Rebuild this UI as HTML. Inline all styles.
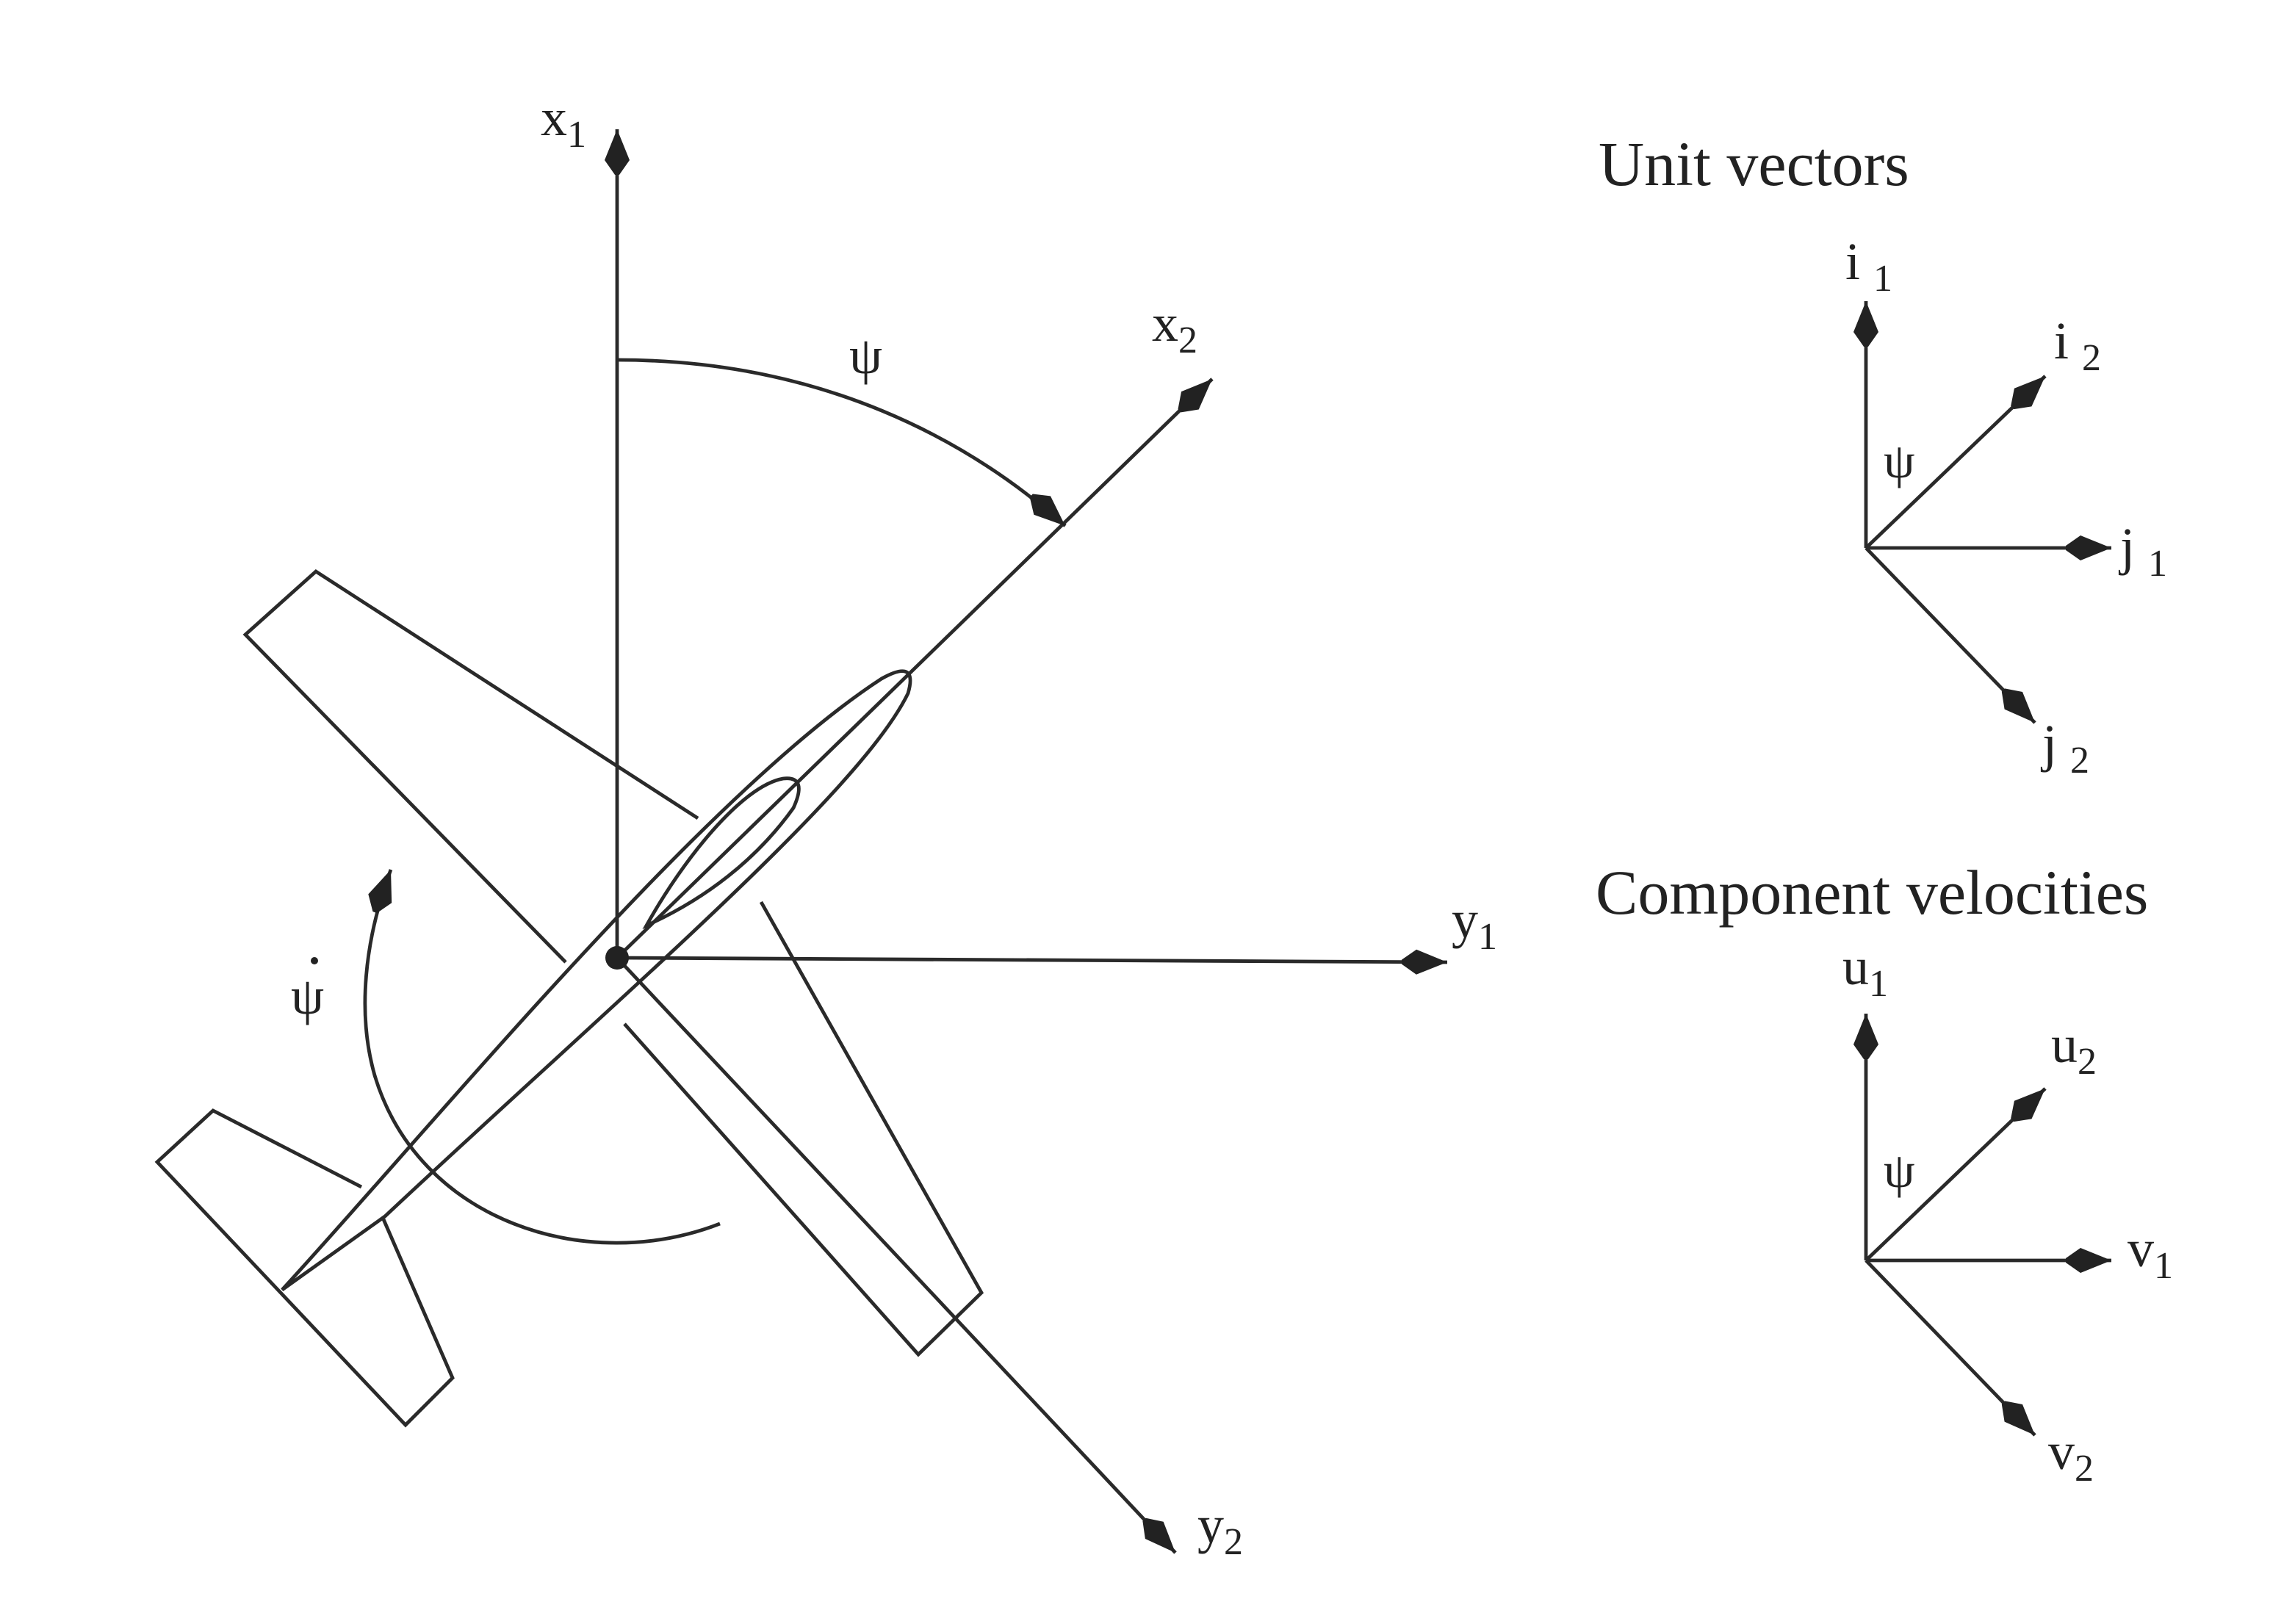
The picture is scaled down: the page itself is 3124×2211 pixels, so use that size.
<!DOCTYPE html>
<html><head><meta charset="utf-8"><style>
html,body{margin:0;padding:0;background:#fff;}
svg{display:block;}
text{font-family:"Liberation Serif",serif;fill:#222;}
</style></head><body>
<svg width="3124" height="2211" viewBox="0 0 1562 1105.5" xmlns="http://www.w3.org/2000/svg">
<defs>
<marker id="a" markerUnits="userSpaceOnUse" markerWidth="40" markerHeight="30" refX="0" refY="0" orient="auto" overflow="visible">
<path d="M0,0 L-21,-8.5 L-31,-1.5 L-31,1.5 L-21,8.5 Z" fill="#222" stroke="none"/>
</marker>
</defs>
<rect width="1562" height="1106" fill="#fff"/>
<g stroke="#2a2a2a" stroke-width="2.4" fill="none" stroke-linejoin="miter">
<polyline points="385,655 167,432 215,389 475,557"/>
<polyline points="518,614 668,880 625,922 425,697"/>
<polyline points="246,808 145,756 107,791 276,970 308,938 261,830"/>
<path d="M192,878 C300,760 480,540 600,462 Q625,448 618,472 C585,540 420,680 262,828 Z" fill="#fff"/>
<line x1="420" y1="652" x2="420" y2="88" marker-end="url(#a)"/>
<line x1="420" y1="652" x2="985" y2="655" marker-end="url(#a)"/>
<line x1="420" y1="652" x2="825" y2="258" marker-end="url(#a)"/>
<line x1="420" y1="652" x2="800" y2="1057" marker-end="url(#a)"/>
<path d="M420,245 C560,245 660,300 725,358" marker-end="url(#a)"/>
<path d="M440,630 C465,585 505,535 533,530 Q550,528 540,550 C515,585 480,612 440,630 Z"/>
<path d="M490,833 C400,868 285,832 255,732 C243,690 248,640 266,592" marker-end="url(#a)"/>
</g>
<circle cx="420" cy="652" r="8" fill="#222"/>
<g font-size="36">
<text x="368" y="92">x<tspan font-size="26" dy="8">1</tspan></text>
<text x="578" y="254">ψ</text>
<text x="784" y="232">x<tspan font-size="26" dy="8">2</tspan></text>
<text x="988" y="638">y<tspan font-size="26" dy="8">1</tspan></text>
<text x="815" y="1050">y<tspan font-size="26" dy="8">2</tspan></text>
<text x="198" y="690">ψ</text>
</g>
<circle cx="214" cy="654" r="2.5" fill="#222"/>
<text x="1088" y="126" font-size="43">Unit vectors</text>
<text x="1086" y="622" font-size="43">Component velocities</text>
<g stroke="#2a2a2a" stroke-width="2.4" fill="none">
<line x1="1270" y1="373" x2="1270" y2="205" marker-end="url(#a)"/>
<line x1="1270" y1="373" x2="1392" y2="256" marker-end="url(#a)"/>
<line x1="1270" y1="373" x2="1437" y2="373" marker-end="url(#a)"/>
<line x1="1270" y1="373" x2="1385" y2="492" marker-end="url(#a)"/>
<line x1="1270" y1="858" x2="1270" y2="690" marker-end="url(#a)"/>
<line x1="1270" y1="858" x2="1392" y2="741" marker-end="url(#a)"/>
<line x1="1270" y1="858" x2="1437" y2="858" marker-end="url(#a)"/>
<line x1="1270" y1="858" x2="1385" y2="977" marker-end="url(#a)"/>
</g>
<g font-size="36">
<text x="1256" y="190">i <tspan font-size="26" dy="8">1</tspan></text>
<text x="1398" y="244">i <tspan font-size="26" dy="8">2</tspan></text>
<text x="1282" y="325" font-size="34">ψ</text>
<text x="1443" y="384">j <tspan font-size="26" dy="8">1</tspan></text>
<text x="1390" y="518">j <tspan font-size="26" dy="8">2</tspan></text>
<text x="1254" y="670">u<tspan font-size="26" dy="8">1</tspan></text>
<text x="1396" y="723">u<tspan font-size="26" dy="8">2</tspan></text>
<text x="1282" y="808" font-size="34">ψ</text>
<text x="1448" y="862">v<tspan font-size="26" dy="8">1</tspan></text>
<text x="1394" y="1000">v<tspan font-size="26" dy="8">2</tspan></text>
</g>
</svg>
</body></html>
